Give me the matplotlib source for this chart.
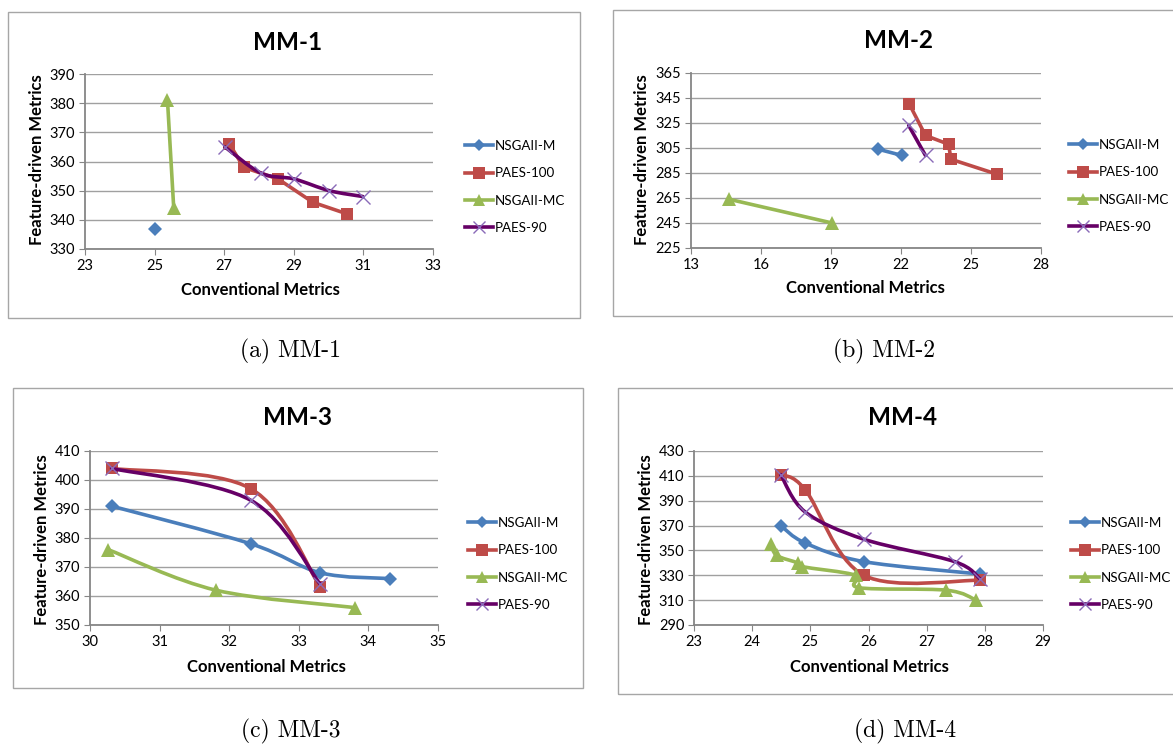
import numpy as np
import matplotlib.pyplot as plt
from matplotlib.path import Path
from matplotlib.patches import PathPatch, Rectangle
from matplotlib.lines import Line2D

# series names and styles
names = ['NSGAII-M', 'PAES-100', 'NSGAII-MC', 'PAES-90']
line_colors = ['#4A7EBB', '#BE4B48', '#98B954', '#660066']
marker_colors = ['#4A7EBB', '#BE4B48', '#98B954', '#8A6AB8']
markers = ['D', 's', '^', 'x']
msizes = [7, 9, 10, 10]

# MM-1
mm1_x = [[25.0], [27.15, 27.56, 28.55, 29.55, 30.54], [25.37, 25.55], [27.02, 28.06, 29.01, 30.02, 30.98]]
mm1_y = [[337], [366, 358, 354, 346, 342], [381, 344], [365, 356, 354, 350, 348]]
# MM-2
mm2_x = [[21.03, 22.05], [22.36, 23.05, 24.04, 24.14, 26.12], [14.63, 19.05], [22.33, 23.05]]
mm2_y = [[304, 299], [340, 315, 308, 296, 284], [264, 245], [323, 299]]
# MM-3
mm3_x = [[30.31, 32.31, 33.31, 34.31], [30.31, 32.31, 33.31], [30.26, 31.81, 33.81], [30.31, 32.31, 33.31]]
mm3_y = [[391, 378, 368, 366], [404, 397, 363], [376, 362, 356], [404, 393, 364]]
# MM-4
mm4_x = [[24.49, 24.91, 25.92, 27.92], [24.49, 24.91, 25.92, 27.92],
         [24.33, 24.42, 24.78, 24.85, 25.78, 25.84, 27.34, 27.85],
         [24.49, 24.91, 25.92, 27.48, 27.92]]
mm4_y = [[370, 356, 341, 331], [411, 399, 330, 326],
         [355, 346, 340, 337, 330, 320, 318, 310],
         [411, 381, 359, 341, 327]]

W, H = 1173, 744
fig = plt.figure(figsize=(W / 100, H / 100), dpi=100)
font = ['Lato', 'DejaVu Sans']


def fx(px):
    return px / W


def fy(py):
    return 1 - py / H


def smooth_path(xs, ys):
    # excel-style smoothed line: cubic bezier through the points
    p = np.column_stack([xs, ys]).astype(float)
    n = len(p)
    verts = [p[0]]
    codes = [Path.MOVETO]
    for i in range(n - 1):
        p0 = p[i - 1] if i > 0 else p[i]
        p3 = p[i + 2] if i + 2 < n else p[i + 1]
        c1 = p[i] + (p[i + 1] - p0) / 6
        c2 = p[i + 1] - (p3 - p[i]) / 6
        verts += [c1, c2, p[i + 1]]
        codes += [Path.CURVE4] * 3
    return Path(verts, codes)


# panel: data, axes box (l, r, t, b), ticks, smooth flags, title, frame, labels, legend, caption
panels = [
    dict(xs=mm1_x, ys=mm1_y, box=(85, 433, 74, 249), xt=np.arange(23, 34, 2), yt=np.arange(330, 391, 10),
         smooth=[False, False, False, True], title='MM-1', tpos=(288, 42), frame=(8, 580, 12, 318),
         xl=(260, 290), yl=(37, 160), leg=(465, 187), cap='(a) MM-1', cpos=(291, 351)),
    dict(xs=mm2_x, ys=mm2_y, box=(691, 1041, 73, 248), xt=np.arange(13, 29, 3), yt=np.arange(225, 366, 20),
         smooth=[False, False, False, False], title='MM-2', tpos=(898, 40), frame=(613, 1180, 10, 316),
         xl=(865, 288), yl=(642, 160), leg=(1069, 186), cap='(b) MM-2', cpos=(884, 351)),
    dict(xs=mm3_x, ys=mm3_y, box=(90, 438, 451, 625), xt=np.arange(30, 36, 1), yt=np.arange(350, 411, 10),
         smooth=[True, True, True, True], title='MM-3', tpos=(297, 418), frame=(13, 583, 388, 688),
         xl=(266, 667), yl=(42, 540), leg=(468, 564), cap='(c) MM-3', cpos=(291, 731)),
    dict(xs=mm4_x, ys=mm4_y, box=(694, 1043, 451, 625), xt=np.arange(23, 30, 1), yt=np.arange(290, 431, 20),
         smooth=[True, True, True, True], title='MM-4', tpos=(903, 418), frame=(618, 1180, 388, 694),
         xl=(869, 667), yl=(646, 540), leg=(1071, 564), cap='(d) MM-4', cpos=(905, 731)),
]

for pn in panels:
    fl, fr, ft, fb = pn['frame']
    fig.patches.append(Rectangle((fx(fl), fy(fb)), fx(fr - fl), (fb - ft) / H, transform=fig.transFigure,
                                 fill=False, edgecolor='#A6A6A6', linewidth=1.0))
    l, r, t, b = pn['box']
    ax = fig.add_axes([fx(l), fy(b), fx(r - l), (b - t) / H])
    ax.set_xlim(pn['xt'][0], pn['xt'][-1])
    ax.set_ylim(pn['yt'][0], pn['yt'][-1])
    ax.set_xticks(pn['xt'])
    ax.set_yticks(pn['yt'])
    ax.grid(axis='y', color='#A0A0A0', linewidth=1.0)
    ax.set_axisbelow(True)
    for s in ['top', 'right']:
        ax.spines[s].set_visible(False)
    for s in ['left', 'bottom']:
        ax.spines[s].set_color('#868686')
        ax.spines[s].set_linewidth(1.3)
    ax.tick_params(length=4, color='#868686', labelsize=10.5, pad=3)
    for lab in ax.get_xticklabels() + ax.get_yticklabels():
        lab.set_family(font)

    handles = []
    for k in range(4):
        xs, ys = pn['xs'][k], pn['ys'][k]
        if len(xs) > 1:
            if pn['smooth'][k]:
                ax.add_patch(PathPatch(smooth_path(xs, ys), fill=False, edgecolor=line_colors[k],
                                       linewidth=2.6, zorder=2 + k, capstyle='round', joinstyle='round'))
            else:
                ax.plot(xs, ys, color=line_colors[k], linewidth=2.6, zorder=2 + k,
                        solid_joinstyle='round', solid_capstyle='round')
        mew = 1.0 if markers[k] == 'x' else 0
        ax.plot(xs, ys, linestyle='none', marker=markers[k], markersize=msizes[k], color=marker_colors[k],
                markeredgewidth=mew, zorder=2.5 + k, clip_on=False)
        handles.append(Line2D([], [], color=line_colors[k], linewidth=2.6, marker=markers[k],
                              markersize=msizes[k] - 1, markerfacecolor=marker_colors[k],
                              markeredgecolor=marker_colors[k], markeredgewidth=mew))

    lx, ly = pn['leg']
    fig.legend(handles, names, loc='center left', bbox_to_anchor=(fx(lx), fy(ly)), frameon=False,
               prop={'family': font, 'size': 9.6}, handlelength=2.1, handletextpad=0.1,
               labelspacing=1.15, borderpad=0, borderaxespad=0)

    fig.text(fx(pn['tpos'][0]), fy(pn['tpos'][1]), pn['title'], ha='center', va='center',
             fontsize=17.5, fontweight='bold', family=font)
    fig.text(fx(pn['xl'][0]), fy(pn['xl'][1]), 'Conventional Metrics', ha='center', va='center',
             fontsize=12, fontweight='bold', family=font)
    fig.text(fx(pn['yl'][0]), fy(pn['yl'][1]), 'Feature-driven Metrics', ha='center', va='center',
             rotation=90, fontsize=12, fontweight='bold', family=font)
    fig.text(fx(pn['cpos'][0]), fy(pn['cpos'][1]), pn['cap'], ha='center', va='center',
             fontsize=17, family=['cmr10', 'DejaVu Serif'])

fig.savefig('out.png', dpi=100)
